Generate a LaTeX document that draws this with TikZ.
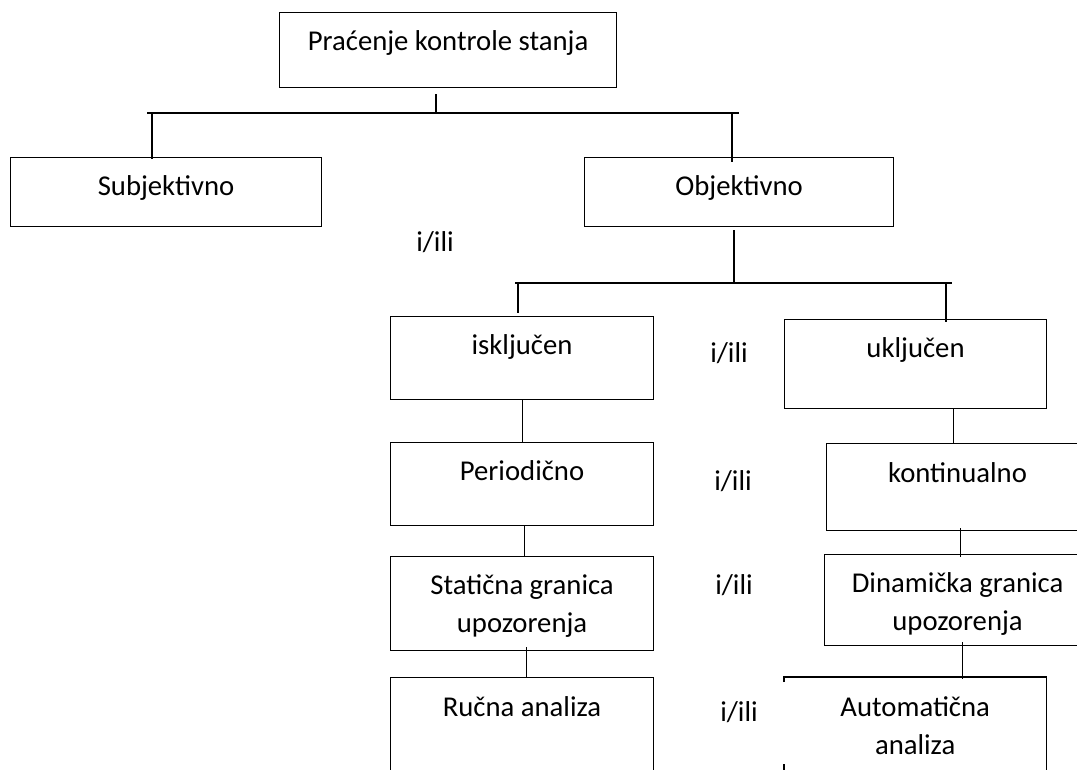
\documentclass[tikz,border=0pt]{standalone}
\usepackage{fontspec}
\setmainfont{Carlito}
\begin{document}
\begin{tikzpicture}[x=1pt,y=-1pt,
  cell/.style={draw, line width=1.1pt, inner sep=0pt, anchor=north west},
  opencell/.style={inner sep=0pt, anchor=north west},
  txt/.style={anchor=base, inner sep=0pt, font=\fontsize{28.7}{38}\selectfont},
  conn/.style={line width=1.1pt},
]
\useasboundingbox (0,0) rectangle (1077,769);
\fill[white] (0,0) rectangle (1077,769);
\clip (0,0) rectangle (1077,769);

% boxes (placed by their top-left corner)
\node[cell, minimum width=337pt, minimum height=75pt] (top)    at (279,12)  {};
\node[cell, minimum width=311pt, minimum height=69pt] (subj)   at (10,157)  {};
\node[cell, minimum width=309pt, minimum height=69pt] (obj)    at (584,157) {};
\node[cell, minimum width=263pt, minimum height=83pt] (iskl)   at (390,316) {};
\node[cell, minimum width=262pt, minimum height=89pt] (ukl)    at (784,319) {};
\node[cell, minimum width=263pt, minimum height=83pt] (period) at (390,442) {};
\node[cell, minimum width=262pt, minimum height=87pt] (kont)   at (826,443) {};
\node[cell, minimum width=263pt, minimum height=94pt] (stat)   at (390,556) {};
\node[cell, minimum width=266pt, minimum height=91pt] (din)    at (824,554) {};
\node[cell, minimum width=263pt, minimum height=123pt] (rucna) at (390,677) {};
\node[opencell, minimum width=262pt, minimum height=123pt] (auto) at (784,677) {};
% the left side of this box is broken beside its "i/ili"
\draw[conn] ([yshift=-5pt]auto.north west) -- (auto.north west) -- (auto.north east)
  -- (auto.south east) -- (auto.south west) -- ([yshift=36pt]auto.south west);

% box texts
\node[txt] at ([yshift=-38pt]top.north)    {Praćenje kontrole stanja};
\node[txt] at ([yshift=-38pt]subj.north)   {Subjektivno};
\node[txt] at ([yshift=-38pt]obj.north)    {Objektivno};
\node[txt] at ([yshift=-38pt]iskl.north)   {isključen};
\node[txt] at ([yshift=-38pt]ukl.north)    {uključen};
\node[txt] at ([yshift=-38pt]period.north) {Periodično};
\node[txt] at ([yshift=-39pt]kont.north)   {kontinualno};
\node[txt] at ([yshift=-38pt]stat.north)   {\begin{tabular}[t]{@{}c@{}}Statična granica\\upozorenja\end{tabular}};
\node[txt] at ([yshift=-38pt]din.north)    {\begin{tabular}[t]{@{}c@{}}Dinamička granica\\upozorenja\end{tabular}};
\node[txt] at ([yshift=-39pt]rucna.north)  {Ručna analiza};
\node[txt] at ([yshift=-39pt]auto.north)   {\begin{tabular}[t]{@{}c@{}}Automatična\\analiza\end{tabular}};

% "i/ili" labels
\node[txt] (or1) at (435,251) {i/ili};
\node[txt] (or2) at (729,362) {i/ili};
\node[txt] (or3) at (733,490) {i/ili};
\node[txt] (or4) at (734,594) {i/ili};
\node[txt] (or5) at (739,721) {i/ili};

% first branching
\coordinate (j0) at (436,113);
\coordinate (h1a) at (147,113);
\coordinate (h1b) at (739,113);
\coordinate (j1) at (152,112);
\coordinate (j2) at (732,112);
\draw[conn] (h1a) -- (h1b);
\draw[conn, shorten <=6pt] (top.south -| j0) -- (j0);
\draw[conn, shorten >=-2pt] (j1) -- (j1 |- subj.north);
\draw[conn, shorten >=-5pt] (j2) -- (j2 |- obj.north);

% second branching
\coordinate (j3) at (734,283);
\coordinate (h2a) at (515,283);
\coordinate (h2b) at (952,283);
\coordinate (j4) at (518,282);
\coordinate (j5) at (946,282);
\draw[conn] (h2a) -- (h2b);
\draw[conn, shorten <=3pt] (obj.south -| j3) -- (j3);
\draw[conn, shorten >=3pt] (j4) -- (j4 |- iskl.north);
\draw[conn, shorten >=-3pt] (j5) -- (j5 |- ukl.north);

% left column
\draw[conn] ([xshift=0.5pt]iskl.south) -- ([xshift=0.5pt]period.north);
\draw[conn] ([xshift=2.5pt]period.south) -- ([xshift=2.5pt]stat.north);
\draw[conn, shorten <=-4pt] ([xshift=4.5pt]stat.south) -- ([xshift=4.5pt]rucna.north);

% right column
\draw[conn] ([xshift=38pt]ukl.south) -- ([xshift=38pt]ukl.south |- kont.north);
\draw[conn, shorten <=-3pt, shorten >=-3pt] ([xshift=3pt]kont.south) -- ([xshift=3pt]kont.south |- din.north);
\draw[conn, shorten <=-4pt, shorten >=-2pt] ([xshift=5pt]din.south) -- ([xshift=5pt]din.south |- auto.north);
\end{tikzpicture}
\end{document}
